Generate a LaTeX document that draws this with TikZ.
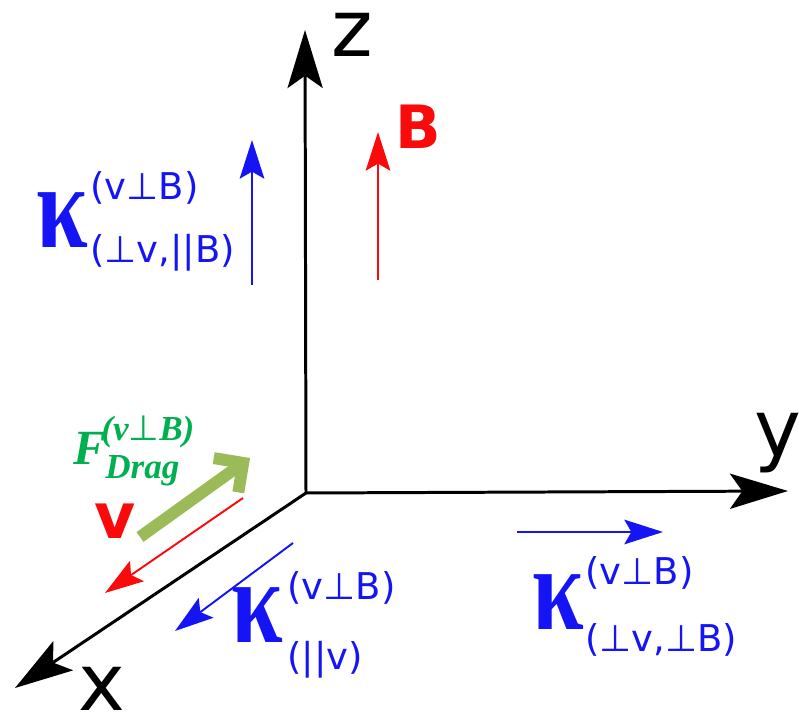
\documentclass[tikz,border=0pt]{standalone}
\usepackage{fontspec}
\usepackage{graphicx}
\usetikzlibrary{arrows.meta}
\newfontfamily\axisfont{DejaVu Sans}
\newfontfamily\kapfont{Liberation Serif}
\definecolor{kblue}{RGB}{20,20,245}
\definecolor{bred}{RGB}{250,10,10}
\definecolor{dragtext}{RGB}{0,176,80}
\definecolor{dragarrow}{RGB}{155,187,89}
\newcommand{\kapsym}{\scalebox{0.78}[1]{κ}}

\begin{document}
\begin{tikzpicture}[
  axisline/.style={line width=1.7pt, -{Stealth[length=33pt,width=20pt,inset=7pt]}},
  vecarrow/.style={line width=1.1pt, -{Stealth[length=22pt,width=14pt,inset=4pt]}},
  axislbl/.style={inner sep=0pt, font=\axisfont\fontsize{45}{50}\selectfont},
  redlbl/.style={inner sep=0pt, text=bred, font=\axisfont\bfseries\fontsize{36}{40}\selectfont},
  kap/.style={inner sep=0pt, anchor=base east, text=kblue, font=\kapfont\bfseries\fontsize{68}{74}\selectfont},
  kapscript/.style={inner sep=0pt, anchor=base west, text=kblue, font=\axisfont\fontsize{21}{24}\selectfont},
  dragmain/.style={inner sep=0pt, anchor=base west, text=dragtext, font=\kapfont\bfseries\itshape\fontsize{28}{32}\selectfont},
  dragscript/.style={inner sep=0pt, anchor=base west, text=dragtext, font=\kapfont\bfseries\itshape\fontsize{20}{23}\selectfont}]
  \useasboundingbox (0,0) rectangle (15.98,14.28);

  % axes
  \coordinate (O) at (6.12,4.42);
  \coordinate (ztip) at (6.10,13.68);
  \coordinate (ytip) at (15.76,4.46);
  \coordinate (xtip) at (0.30,0.52);
  \draw[axisline] (O) -- (ztip);
  \draw[axisline] (O) -- (ytip);
  \draw[axisline] (O) -- (xtip);
  \node[axislbl] (zlbl) at (7.04,13.58) {z};
  \node[axislbl] (ylbl) at (15.56,5.42) {y};
  \node[axislbl] (xlbl) at (2.04,0.50) {x};

  % field B
  \coordinate (Bfoot) at (7.56,8.68);
  \coordinate (Bhead) at (7.56,11.64);
  \draw[vecarrow, bred] (Bfoot) -- (Bhead);
  \node[redlbl, font=\axisfont\bfseries\fontsize{34}{38}\selectfont] (Blbl) at (8.37,11.75) {B};

  % velocity v
  \coordinate (vfoot) at (4.86,4.32);
  \coordinate (vhead) at (2.10,2.42);
  \draw[vecarrow, bred] (vfoot) -- (vhead);
  \node[redlbl] (vlbl) at (2.30,3.85) {v};

  % drag force
  \coordinate (dfoot) at (2.80,3.54);
  \coordinate (dhead) at (5.00,5.12);
  \draw[dragarrow, line width=6.8pt, -{Straight Barb[length=12pt,width=24pt]}] (dfoot) -- (dhead);
  \node[dragmain] (dF) at (1.46,4.98) {F};
  \node[dragscript] (dFsup) at (2.02,5.46) {(v{\normalfont\axisfont ⊥}B)};
  \node[dragscript] (dFsub) at (2.10,4.70) {Drag};

  % kappa along z
  \coordinate (k1foot) at (5.04,8.58);
  \coordinate (k1head) at (5.04,11.48);
  \draw[vecarrow, kblue] (k1foot) -- (k1head);
  \node[kap] (k1) at (1.77,9.32) {\kapsym};
  \node[kapscript] (k1sup) at (1.80,10.28) {(v⊥B)};
  \node[kapscript] (k1sub) at (1.80,9.02) {(⊥v,||B)};

  % kappa along x
  \coordinate (k2foot) at (5.86,3.42);
  \coordinate (k2head) at (3.50,1.66);
  \draw[vecarrow, kblue] (k2foot) -- (k2head);
  \node[kap] (k2) at (5.67,1.42) {\kapsym};
  \node[kapscript] (k2sup) at (5.74,2.28) {(v⊥B)};
  \node[kapscript] (k2sub) at (5.74,0.88) {(||v)};

  % kappa along y
  \coordinate (k3foot) at (10.34,3.64);
  \coordinate (k3head) at (13.26,3.64);
  \draw[vecarrow, kblue] (k3foot) -- (k3head);
  \node[kap] (k3) at (11.69,1.68) {\kapsym};
  \node[kapscript] (k3sup) at (11.70,2.58) {(v⊥B)};
  \node[kapscript] (k3sub) at (11.70,1.24) {(⊥v,⊥B)};
\end{tikzpicture}
\end{document}
